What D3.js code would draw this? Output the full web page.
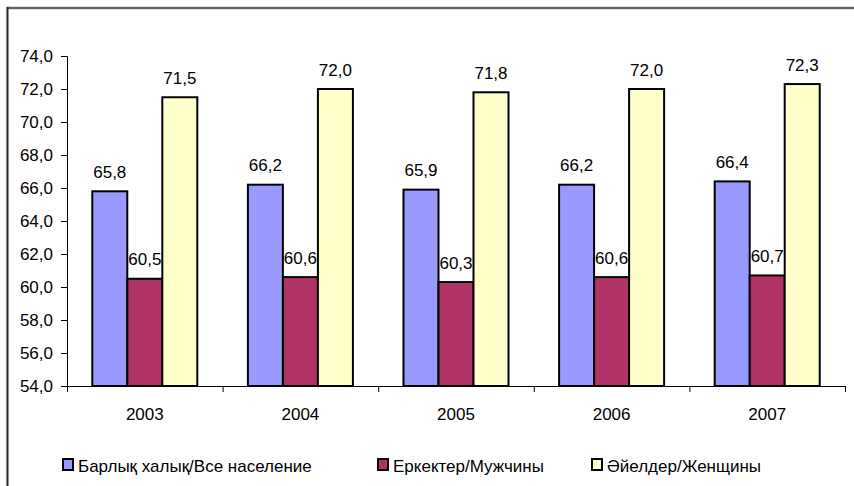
<!DOCTYPE html>
<html><head><meta charset="utf-8">
<script src="https://cdn.jsdelivr.net/npm/d3@7/dist/d3.min.js"></script>
<style>body{margin:0;background:#fff}svg{display:block}text{font-family:"Liberation Sans",Arial,sans-serif}</style>
</head><body><svg id="c" width="854" height="486"></svg>
<script>
const years = ["2003","2004","2005","2006","2007"];
const seriesNames = ["Барлық халық/Все население","Еркектер/Мужчины","Әйелдер/Женщины"];
const allPop = [65.8,66.2,65.9,66.2,66.4];
const men = [60.5,60.6,60.3,60.6,60.7];
const women = [71.5,72.0,71.8,72.0,72.3];
const yTicks = [54,56,58,60,62,64,66,68,70,72,74];
const colors = ["#9999FF","#B03366","#FFFFCC"];
const series = [allPop, men, women];

const svg = d3.select("#c");
const fs = 17;
// frame
svg.append("line").attr("x1",7).attr("x2",854).attr("y1",8).attr("y2",8).attr("stroke","#666").attr("stroke-width",2.5);
svg.append("line").attr("x1",7.5).attr("x2",7.5).attr("y1",7).attr("y2",486).attr("stroke","#222").attr("stroke-width",2);

const L=67,R=845,T=56,B=386;
const y = d3.scaleLinear().domain([54,74]).range([B,T]);
const x0 = d3.scaleBand().domain(years).range([L,R]).paddingInner(0.325).paddingOuter(0.1625);
const x1 = d3.scaleBand().domain([0,1,2]).range([0,x0.bandwidth()]);
const fmt = v => v.toFixed(1).replace(".",",");

// y axis
const ya = svg.append("g").attr("transform",`translate(${L},0)`)
  .call(d3.axisLeft(y).tickValues(yTicks).tickSize(6).tickPadding(8).tickFormat(fmt));
ya.selectAll("text").attr("font-size",fs).attr("fill","#000").attr("font-family",'"Liberation Sans",Arial,sans-serif');
ya.selectAll("line,path").attr("stroke","#000");
ya.select("path").attr("d",`M-6,${T+0.5}H0.5V${B}`);

// x axis
const xb = d3.scaleBand().domain(years).range([L,R]);
const xa = svg.append("g").attr("transform",`translate(0,${B})`)
  .call(d3.axisBottom(xb).tickSize(0).tickPadding(22));
xa.selectAll("text").attr("font-size",fs).attr("fill","#000").attr("font-family",'"Liberation Sans",Arial,sans-serif');
xa.select("path").attr("stroke","#000").attr("d",`M${L},0.5H${R}`);
const bounds = years.map(d=>xb(d)).concat([R]);
xa.selectAll(".bt").data(bounds).enter().append("line").attr("class","bt")
  .attr("x1",d=>d+0.5).attr("x2",d=>d+0.5).attr("y1",0).attr("y2",6).attr("stroke","#000");

// bars
series.forEach((s,si)=>{
  const g = svg.append("g");
  g.selectAll("rect").data(s).enter().append("rect")
    .attr("x",(d,i)=>x0(years[i])+x1(si))
    .attr("y",d=>y(d))
    .attr("width",x1.bandwidth())
    .attr("height",d=>B-y(d))
    .attr("fill",colors[si]).attr("stroke","#000").attr("stroke-width",2);
  g.selectAll("text").data(s).enter().append("text")
    .attr("x",(d,i)=>x0(years[i])+x1(si)+x1.bandwidth()/2)
    .attr("y",d=>y(d)-13.5)
    .attr("text-anchor","middle").attr("font-size",fs).text(fmt);
});

// legend
const legX = [62,377,591];
seriesNames.forEach((n,i)=>{
  svg.append("rect").attr("x",legX[i]+1).attr("y",459).attr("width",10).attr("height",11)
    .attr("fill",colors[i]).attr("stroke","#000").attr("stroke-width",2);
  svg.append("text").attr("x",legX[i]+16).attr("y",472).attr("font-size",fs).text(n);
});
</script></body></html>
